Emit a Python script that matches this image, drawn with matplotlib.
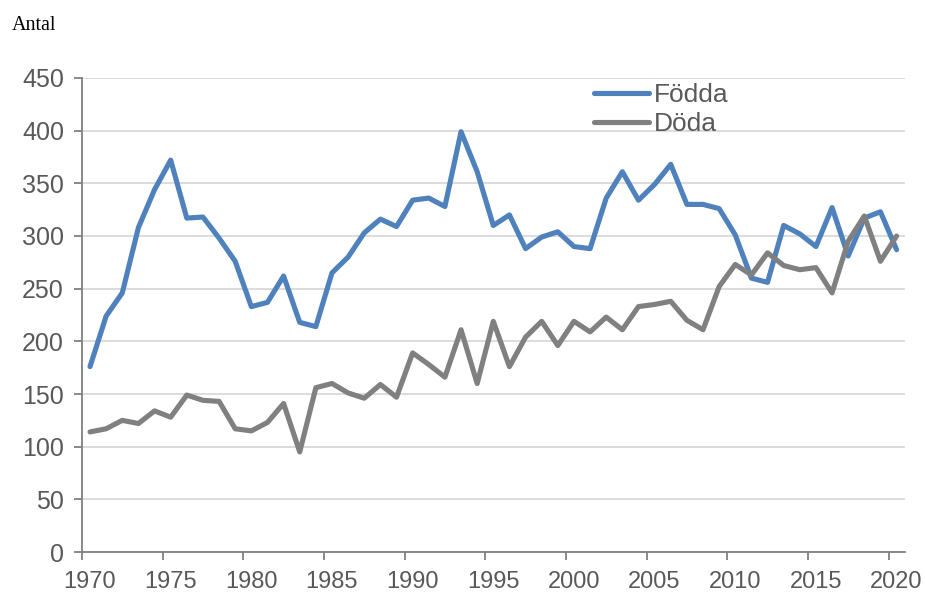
import matplotlib
matplotlib.use("Agg")
import matplotlib.pyplot as plt
import numpy as np

years = list(range(1970, 2021))
fodda = [176, 224, 246, 308, 344, 372, 317, 318, 298, 276,
         233, 237, 262, 218, 214, 265, 280, 303, 316, 309,
         334, 336, 328, 399, 361, 310, 320, 288, 299, 304,
         290, 288, 336, 361, 334, 349, 368, 330, 330, 326,
         301, 260, 256, 310, 302, 290, 327, 281, 317, 323,
         287]
doda = [114, 117, 125, 122, 134, 128, 149, 144, 143, 117,
        115, 123, 141, 95, 156, 160, 151, 146, 159, 147,
        189, 178, 166, 211, 160, 219, 176, 204, 219, 196,
        219, 209, 223, 211, 233, 235, 238, 220, 211, 252,
        273, 263, 284, 272, 268, 270, 246, 295, 319, 276,
        300]
series_names = ["Födda", "Döda"]
yticks = [0, 50, 100, 150, 200, 250, 300, 350, 400, 450]
xtick_years = list(range(1970, 2021, 5))

plt.rcParams['font.family'] = ['Liberation Sans', 'DejaVu Sans']

fig = plt.figure(figsize=(9.25, 5.93), dpi=100)
ax = fig.add_axes([0.0886, 0.0691, 0.978 - 0.0886, 0.8685 - 0.0691])

x = np.arange(len(years))
ax.plot(x, fodda, color='#4f81bd', lw=3.7, label=series_names[0], solid_joinstyle='round', solid_capstyle='round')
ax.plot(x, doda, color='#808080', lw=3.7, label=series_names[1], solid_joinstyle='round', solid_capstyle='round')

ax.set_xlim(-0.5, len(years) - 0.5)
ax.set_ylim(0, 450)
ax.set_yticks(yticks)
ax.set_yticklabels([str(v) for v in yticks])
ax.yaxis.grid(True, color='#d9d9d9', lw=1.3)
ax.set_axisbelow(True)

# category labels at centers, tick marks at boundaries
label_pos = [years.index(y) for y in xtick_years]
ax.set_xticks(label_pos)
ax.set_xticklabels([str(y) for y in xtick_years])
ax.tick_params(axis='x', which='major', length=0, pad=14, labelsize=17, labelcolor='#595959')
ax.set_xticks([p - 0.5 for p in label_pos], minor=True)
ax.tick_params(axis='x', which='minor', length=6, width=1.3, color='#808080', direction='out')
ax.tick_params(axis='y', length=6, width=1.3, color='#808080', direction='out', pad=7,
               labelsize=18, labelcolor='#595959')

for s in ['top', 'right']:
    ax.spines[s].set_visible(False)
for s in ['left', 'bottom']:
    ax.spines[s].set_color('#808080')
    ax.spines[s].set_linewidth(1.3)

leg = ax.legend(loc='upper left', bbox_to_anchor=(594 / 925, 1 - 83 / 593),
                bbox_transform=fig.transFigure, frameon=False, fontsize=19,
                handlelength=2.1, handletextpad=0.15, labelspacing=0.2,
                borderaxespad=0, borderpad=0)
for t in leg.get_texts():
    t.set_color('#595959')

fig.text(12 / 925, 1 - 26 / 593, 'Antal', fontsize=14.5, family='Liberation Serif',
         color='black', va='center', ha='left')

fig.savefig('out.png', dpi=100)
